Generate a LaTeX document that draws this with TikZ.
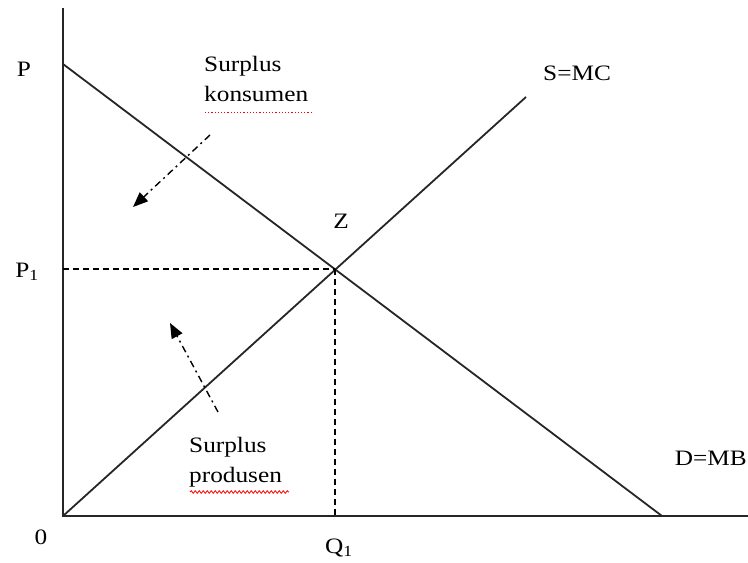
\documentclass[tikz,border=0pt]{standalone}
\usepackage{fontspec}
\setmainfont{Liberation Serif}[FakeStretch=1.15]
\usetikzlibrary{arrows.meta,decorations.pathmorphing}
\begin{document}
\begin{tikzpicture}[x=1pt,y=-1pt,
  lbl/.style={inner sep=0pt,font=\fontsize{22}{25}\selectfont},
  lbltwo/.style={lbl,align=left,font=\fontsize{22}{30}\selectfont},
  curve/.style={line width=1.8pt,black!85},
  axis/.style={line width=2pt,black!85},
  guide/.style={line width=1.2pt,dash pattern=on 6pt off 4pt},
  hint/.style={line width=1.4pt,dash pattern=on 7pt off 4pt on 2pt off 4pt,-{Triangle[length=15pt,width=12pt]}}]
\useasboundingbox (0,0) rectangle (748,563);
% key points
\coordinate (O) at (63,516);
\coordinate (ytop) at (63,8);
\coordinate (xend) at (748,516);
\coordinate (dstart) at (63,64);
\coordinate (dend) at (662,516);
\coordinate (send) at (526,97);
\coordinate (Z) at (335,269);
\coordinate (P1axis) at (63,269);
\coordinate (Q1axis) at (335,516);
% axes
\draw[axis] (ytop) -- (O) -- (xend);
% curves
\draw[curve] (dstart) -- (dend);
\draw[curve] (O) -- (send);
% guides
\draw[guide] (P1axis) -- (Z);
\draw[guide] (Z) -- (Q1axis);
% labels
\node[lbl] (P) at (24,69) {P};
\node[lbl] (P1) at (27,272) {P\textsubscript{1}};
\node[lbl] (zero) at (41,537) {0};
\node[lbl] (Q1) at (339,548) {Q\textsubscript{1}};
\node[lbl] (Zl) at (341,221) {Z};
\node[lbl,anchor=west] (S) at (543,73) {S=MC};
\node[lbl,anchor=east] (D) at (747,458) {D=MB};
\node[lbltwo,anchor=north west] (sk) at (204,56) {Surplus\\konsumen};
\node[lbltwo,anchor=north west] (sp) at (189,437) {Surplus\\produsen};
% spell-check underlines
\coordinate (ku1) at (205,112);
\coordinate (ku2) at (312,112);
\coordinate (pu1) at (190,492);
\coordinate (pu2) at (289,492);
\draw[red,line width=1pt,dash pattern=on 1.2pt off 2pt] (ku1) -- (ku2);
\draw[red,line width=0.8pt,decorate,decoration={snake,amplitude=1.3pt,segment length=4pt}] (pu1) -- (pu2);
% arrows
\coordinate (a1t) at (210,135);
\coordinate (a1h) at (133,207);
\coordinate (a2t) at (218,412);
\coordinate (a2h) at (170,323);
\draw[hint] (a1t) -- (a1h);
\draw[hint] (a2t) -- (a2h);
\end{tikzpicture}
\end{document}
